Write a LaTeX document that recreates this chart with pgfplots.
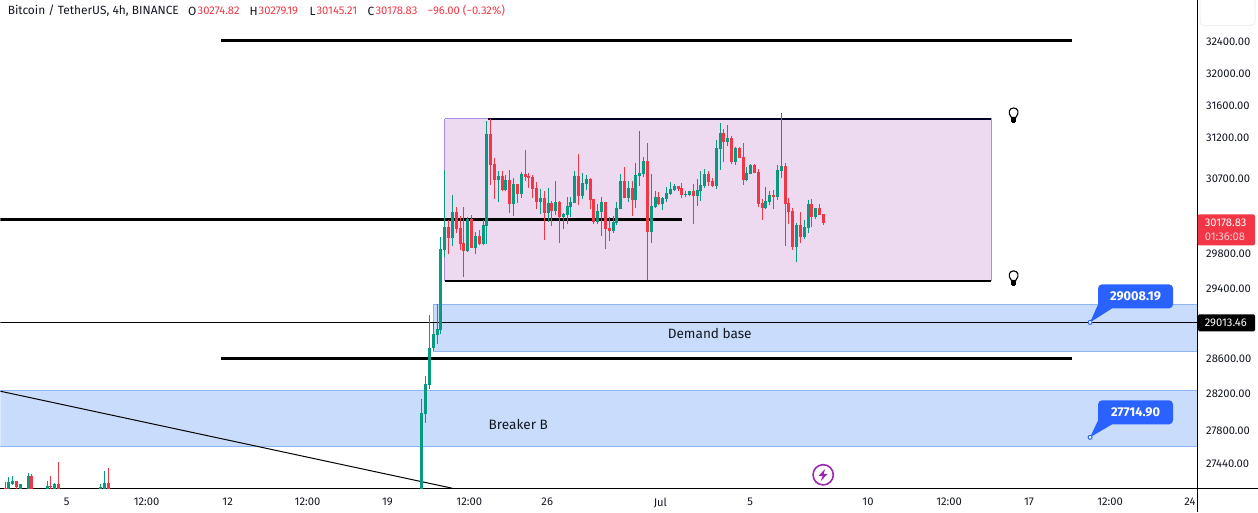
\documentclass[border=0pt]{standalone}
\usepackage{fontspec}
\setmainfont{Fira Sans}
\usepackage{pgfplots}
\usepackage{pgfplotstable}
\pgfplotsset{compat=1.18}

\definecolor{upc}{HTML}{089981}
\definecolor{downc}{HTML}{F23645}
\definecolor{boxfill}{HTML}{EDDAF0}
\definecolor{boxedge}{HTML}{A88FE0}
\definecolor{zonefill}{HTML}{C9DCFB}
\definecolor{zoneedge}{HTML}{8FB4F5}
\definecolor{callout}{HTML}{2962FF}
\definecolor{flash}{HTML}{9C27B0}
\definecolor{ink}{HTML}{131722}
\newcommand{\uifont}{\fontsize{8.4}{10}\selectfont}
\newcommand{\titlefont}{\fontsize{8.95}{11}\selectfont}
\newcommand{\notefont}{\fontsize{10.2}{12}\selectfont}

% 4h bars, t = bar number counted from the breakout bar
\pgfplotstableread{
t o h l c
-108 27150 27282 27130 27228
-107 27210 27293 27200 27239
-105 27120 27207 27100 27207
-103 27150 27325 27120 27293
-98 27150 27239 27130 27185
-96 27150 27218 27130 27207
-84 27140 27207 27120 27180
-83 27150 27346 27130 27218
0 27100 28134 27050 27983
1 27968 28390 27873 28301
2 28290 29082 28246 28706
3 28706 28990 28672 28865
4 28853 29208 28752 28922
5 28918 29994 28865 29848
6 29837 30793 29759 30109
8 29978 30491 29884 30287
12 29825 30228 29814 30204
14 29861 30049 29790 30002
16 29908 30192 29896 30133
17 30121 31394 29908 31233
20 30672 30781 30407 30720
22 30551 30733 30539 30672
24 30383 30696 30240 30624
26 30503 30769 30455 30745
31 30407 30564 30263 30455
33 30275 30576 30168 30395
35 30299 30660 30251 30407
37 30228 30275 30085 30263
38 30251 30467 30144 30359
39 30347 30467 30228 30407
40 30395 30781 30395 30720
42 30479 30757 30443 30636
43 30624 30733 30551 30684
46 30168 30383 30144 30299
47 30287 30467 30002 30407
50 30061 30240 30038 30168
51 30156 30407 30133 30335
52 30323 30745 30323 30660
54 30455 30660 30407 30576
56 30431 30879 30335 30733
57 30720 31270 30600 30757
58 30745 30951 30708 30903
60 30049 30745 29919 30359
61 30347 30539 30335 30467
63 30383 30467 30311 30455
64 30443 30588 30407 30515
65 30503 30648 30491 30564
66 30551 30624 30539 30600
69 30491 30539 30467 30503
70 30491 30539 30479 30539
72 30479 30684 30359 30551
73 30539 30781 30419 30612
74 30600 30805 30576 30745
77 30600 31160 30564 31061
78 31049 31369 30793 31246
80 31135 31344 31086 31184
82 30891 31074 30854 31061
85 30672 30830 30660 30757
86 30745 30866 30745 30854
90 30335 30588 30323 30419
91 30407 30539 30371 30491
93 30467 30854 30431 30793
94 30781 31493 30696 30842
98 29872 30156 29696 30133
100 29990 30192 29966 30109
101 30097 30431 30038 30383
103 30228 30335 30204 30335
}\upbars

\pgfplotstableread{
t o h l c
-109 27170 27228 27100 27120
-106 27239 27239 27150 27178
-102 27293 27314 27130 27150
-97 27185 27293 27160 27175
-95 27207 27442 27130 27150
-82 27218 27378 27130 27150
7 30109 30192 29790 29978
9 30287 30347 30038 30085
10 30097 30240 29837 29908
11 29919 30347 29521 29825
13 30204 30251 29861 29861
15 30002 30073 29896 29908
18 31233 31419 30612 30854
19 30866 30939 30443 30672
21 30720 30781 30539 30551
23 30672 30793 30275 30383
25 30624 30624 30395 30503
27 30745 31037 30660 30708
28 30720 30757 30576 30696
29 30708 30733 30455 30564
30 30576 30648 30323 30407
32 30455 30539 29955 30275
34 30395 30419 30121 30299
36 30407 30419 29919 30228
41 30720 30988 30371 30479
44 30684 30696 30323 30431
45 30443 30443 30144 30168
48 30407 30407 29849 30085
49 30097 30228 29943 30061
53 30660 30830 30455 30455
55 30576 30660 30240 30431
59 30903 31123 29486 30049
62 30467 30527 30371 30383
67 30600 30600 30539 30564
68 30576 30636 30455 30491
71 30539 30624 30144 30479
75 30745 30781 30600 30648
76 30660 30696 30588 30600
79 31246 31295 30891 31135
81 31184 31209 30866 30891
83 31061 31074 30939 30939
84 30951 31123 30612 30672
87 30854 30866 30757 30757
88 30769 30805 30347 30383
89 30395 30443 30192 30335
92 30491 30551 30323 30467
95 30842 30879 29884 30383
96 30395 30455 30144 30287
97 30299 30335 29837 29872
99 30133 30287 29919 29990
102 30383 30443 30109 30228
104 30335 30383 30251 30251
105 30263 30263 30133 30156
}\downbars

% wick and body of every bar in a table; y is in thousands, a log axis
% this narrow overflows TeX dimensions at full price
\newcommand{\candles}[2]{%
  \pgfplotstablegetrowsof{#1}%
  \pgfmathtruncatemacro{\lastrow}{\pgfplotsretval-1}%
  \pgfplotsforeachungrouped \r in {0,...,\lastrow}{%
    \pgfplotstablegetelem{\r}{t}\of{#1}\let\bart\pgfplotsretval
    \pgfplotstablegetelem{\r}{o}\of{#1}\let\baro\pgfplotsretval
    \pgfplotstablegetelem{\r}{h}\of{#1}\let\barh\pgfplotsretval
    \pgfplotstablegetelem{\r}{l}\of{#1}\let\barl\pgfplotsretval
    \pgfplotstablegetelem{\r}{c}\of{#1}\let\barc\pgfplotsretval
    \edef\onebar{%
      \noexpand\addplot[#2, line width=0.75pt, forget plot]
        coordinates {(\bart,\barl e-3)(\bart,\barh e-3)};
      \noexpand\addplot[#2, line width=2.25pt, forget plot]
        coordinates {(\bart,\baro e-3)(\bart,\barc e-3)};
    }%
    \onebar
  }%
}

\begin{document}
\begin{tikzpicture}
\begin{axis}[
    at={(0pt,0pt)}, anchor=south west,
    scale only axis,
    width=898.1pt, height=366pt,
    ymode=log,
    xmin=-110.2, xmax=202.87,
    ymin=27164e-3, ymax=32928e-3,
    axis x line=bottom, axis y line=right,
    axis line style={-, line width=0.75pt, black},
    major tick length=0pt,
    yminorticks=false, xminorticks=false,
    xtick={-92.9,-72,-50.8,-29.9,-9,12.4,32.8,62.4,85.9,116.7,137.9,158.8,180,200.9},
    xticklabels={5,12:00,12,12:00,19,12:00,26,Jul,5,10,12:00,17,12:00,24},
    ytick={27.44,27.8,28.2,28.6,29.4,29.8,30.7,31.2,31.6,32,32.4},
    yticklabels={27440.00,27800.00,28200.00,28600.00,29400.00,29800.00,30700.00,31200.00,31600.00,32000.00,32400.00},
    tick label style={font=\uifont, text=ink},
    xticklabel style={yshift=-3.9pt},
    yticklabel style={anchor=west, xshift=3pt, yshift=-0.6pt},
]
% zones
\addplot[fill=zonefill, draw=zoneedge, line width=0.75pt, forget plot]
    coordinates {(-111,28.234)(204,28.234)(204,27.618)(-111,27.618)(-111,28.234)};
\addplot[fill=zonefill, draw=zoneedge, line width=0.75pt, forget plot]
    coordinates {(3,29.205)(204,29.205)(204,28.668)(3,28.668)(3,29.205)};
% range box
\addplot[fill=boxfill, draw=boxedge, line width=0.75pt, forget plot]
    coordinates {(6,31.425)(148.9,31.425)(148.9,29.483)(6,29.483)(6,31.425)};
\addplot[black!85!blue, line width=1.5pt, forget plot] coordinates {(17.4,31.418)(148.9,31.418)};
\addplot[black, line width=1.1pt, forget plot] coordinates {(6,29.480)(148.9,29.480)};
% levels
\addplot[black, line width=2.25pt, forget plot] coordinates {(-52.4,32.413)(170.1,32.413)};
\addplot[black, line width=2.25pt, forget plot] coordinates {(-52.4,28.593)(170.1,28.593)};
\addplot[black, line width=2.6pt, forget plot] coordinates {(-110.2,30.201)(68.1,30.201)};
\addplot[black, line width=0.75pt, forget plot] coordinates {(-110.2,28.999)(202.87,28.999)};
\addplot[black, line width=0.75pt, forget plot] coordinates {(-110.2,28.223)(7.9,27.164)};
% bars
\candles{\upbars}{upc}
\candles{\downbars}{downc}
\end{axis}

% header, labels and price scale boxes, in reference pixels
\begin{scope}[x=0.75pt, y=-0.75pt, shift={(0pt,366pt)}]
\path[use as bounding box] (0,0) rectangle (1258,512);
\draw[line width=0.75pt] (1197.5,0) -- (1197.5,512);
\draw[line width=0.75pt] (1197,488) -- (1258,488);
\begin{scope}[every node/.style={font=\uifont, anchor=west, inner sep=0pt}]
\node[text=ink, font=\titlefont] at (7,10.5) {Bitcoin / TetherUS, 4h, BINANCE};
\node[text=ink, font=\titlefont] at (187.5,10.5) {O};
\node[text=downc] at (197,10.5) {30274.82};
\node[text=ink, font=\titlefont] at (249,10.5) {H};
\node[text=downc] at (258,10.5) {30279.19};
\node[text=ink, font=\titlefont] at (309,10.5) {L};
\node[text=downc] at (316,10.5) {30145.21};
\node[text=ink, font=\titlefont] at (367,10.5) {C};
\node[text=downc] at (375,10.5) {30178.83};
\node[text=downc] at (427,10.5) {−96.00 (−0.32\%)};
\end{scope}
\node[font=\notefont, text=ink] at (709.5,333) {Demand base};
\node[font=\notefont, text=ink] at (518,424) {Breaker B};
% top right control
\draw[draw=blue!4!black!6, line width=0.75pt, rounded corners=3pt] (1200,-3) rectangle (1255,25);
% price boxes
\fill[downc, rounded corners=1.5pt] (1197.5,214) rectangle (1255,245);
\node[font=\uifont, text=white, anchor=west, inner sep=0pt] at (1204.5,222.5) {30178.83};
\node[font=\uifont, text=white!75!downc, anchor=west, inner sep=0pt] at (1204.5,236.5) {01:36:08};
\fill[black, rounded corners=1pt] (1198,314) rectangle (1255,331);
\node[font=\uifont, text=white, anchor=west, inner sep=0pt] at (1204.5,322.5) {29013.46};
% callouts
\foreach \ytop/\tipy/\val in {284/322/29008.19, 400/437/27714.90}{
  \fill[callout] (1098,\ytop+20) -- (1090,\tipy) -- (1112,\ytop+24) -- cycle;
  \fill[callout, rounded corners=3pt] (1098,\ytop) rectangle (1173,\ytop+24);
  \node[font=\fontsize{9.6}{11}\selectfont\bfseries, text=white] at (1135.5,\ytop+12) {\val};
  \filldraw[fill=white, draw=callout, line width=0.75pt] (1090,\tipy) circle (1.5pt);
}
% bulbs
\foreach \by in {115,278}{
  \draw[black, line width=0.85pt] (1011.3,\by+2) .. controls (1007,\by-3) and (1009.5,\by-7.5) .. (1013.5,\by-7.5)
     .. controls (1017.5,\by-7.5) and (1020,\by-3) .. (1015.7,\by+2) -- cycle;
  \fill[black] (1011,\by+3) rectangle (1016,\by+6.5);
  \fill[black] (1012,\by+6.5) rectangle (1015,\by+8);
}
% flash
\draw[flash, line width=1.2pt] (823,474.5) circle (7.6pt);
\fill[flash] (825,468.5) -- (818.5,475.5) -- (822.5,475.5) -- (820.5,481) -- (827.5,473.5) -- (823.5,473.5) -- cycle;
\end{scope}
\end{tikzpicture}
\end{document}
